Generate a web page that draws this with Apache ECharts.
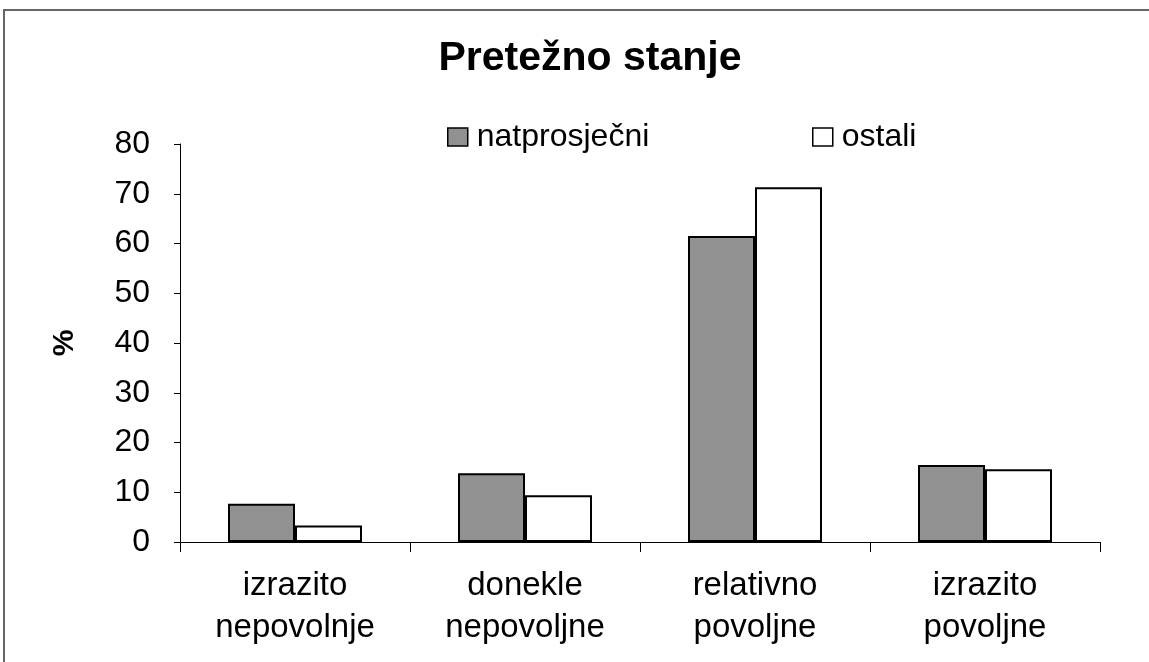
<!DOCTYPE html>
<html>
<head>
<meta charset="utf-8">
<script src="https://cdn.jsdelivr.net/npm/echarts@6/dist/echarts.min.js"></script>
<style>
  html, body { margin: 0; padding: 0; background: #fff; }
  #chart { width: 1149px; height: 662px; }
</style>
</head>
<body>
<div id="chart"></div>
<script>
// kategorije i vrijednosti (%)
var categories = ['izrazito\nnepovolnje', 'donekle\nnepovoljne', 'relativno\npovoljne', 'izrazito\npovoljne'];
var natprosjecni = [7.7, 13.8, 61.5, 15.5];
var ostali = [3.3, 9.4, 71.3, 14.6];
var yTicks = { min: 0, max: 80, interval: 10 };

var font = '"Liberation Sans", Arial, sans-serif';
var chart = echarts.init(document.getElementById('chart'));

chart.setOption({
    animation: false,
    textStyle: { fontFamily: font, color: '#000' },
    // okvir
    graphic: [{
        type: 'rect',
        shape: { x: 4, y: 10, width: 1200, height: 700 },
        style: { fill: 'none', stroke: '#666', lineWidth: 2 }
    }],
    title: {
        text: 'Pretežno stanje',
        left: 585,
        top: 33,
        textAlign: 'center',
        textStyle: { fontFamily: font, fontSize: 41, fontWeight: 'bold', color: '#000' }
    },
    legend: [{
        data: ['natprosječni'],
        left: 442,
        top: 116,
        icon: 'rect',
        itemWidth: 20,
        itemHeight: 18,
        itemStyle: { borderColor: '#000', borderWidth: 1.5 },
        textStyle: { fontFamily: font, fontSize: 32, color: '#000', padding: [0, 0, 0, 4] }
    }, {
        data: ['ostali'],
        left: 807,
        top: 116,
        icon: 'rect',
        itemWidth: 20,
        itemHeight: 18,
        itemStyle: { borderColor: '#000', borderWidth: 1.5 },
        textStyle: { fontFamily: font, fontSize: 32, color: '#000', padding: [0, 0, 0, 4] }
    }],
    grid: { left: 180, right: 49, top: 144, bottom: 120 },
    xAxis: {
        type: 'category',
        data: categories,
        axisLine: { lineStyle: { color: '#000', width: 1 } },
        axisTick: { show: true, length: 10, lineStyle: { color: '#000' } },
        axisLabel: {
            fontFamily: font,
            fontSize: 33,
            lineHeight: 42,
            color: '#000',
            margin: 23,
            interval: 0
        }
    },
    yAxis: {
        type: 'value',
        min: yTicks.min,
        max: yTicks.max,
        interval: yTicks.interval,
        name: '%',
        nameLocation: 'middle',
        nameGap: 100,
        nameTextStyle: { fontFamily: font, fontSize: 30, fontWeight: 'bold', color: '#000' },
        axisLine: { show: true, lineStyle: { color: '#000', width: 1 } },
        axisTick: { show: true, length: 6, lineStyle: { color: '#000' } },
        splitLine: { show: false },
        axisLabel: { fontFamily: font, fontSize: 32, color: '#000', margin: 30 }
    },
    series: [{
        name: 'natprosječni',
        type: 'bar',
        data: natprosjecni,
        barWidth: 67,
        barGap: '0%',
        itemStyle: { color: '#919191', borderColor: '#000', borderWidth: 2 }
    }, {
        name: 'ostali',
        type: 'bar',
        data: ostali,
        barWidth: 67,
        barGap: '0%',
        itemStyle: { color: '#fff', borderColor: '#000', borderWidth: 2 }
    }]
});
</script>
</body>
</html>
